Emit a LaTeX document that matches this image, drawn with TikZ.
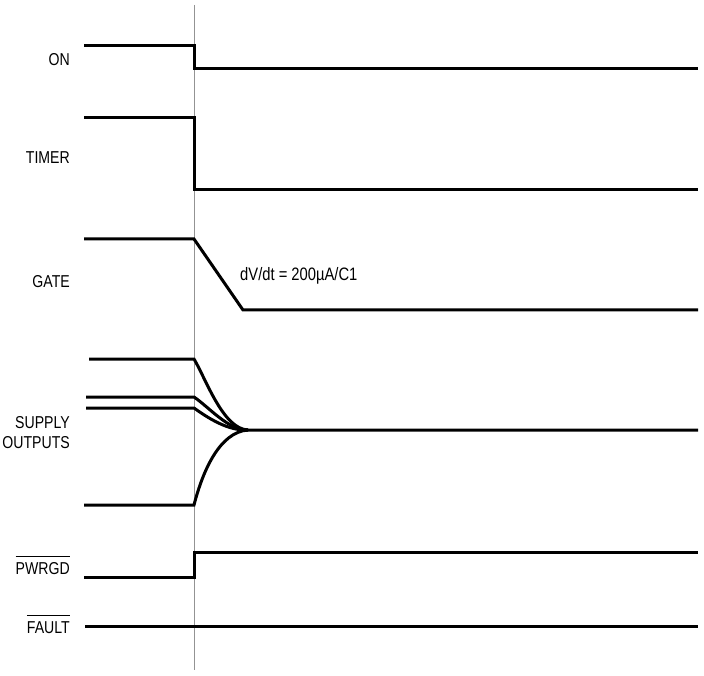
\documentclass[tikz,border=0pt]{standalone}
\usepackage{fontspec}
\setmainfont{Liberation Sans}[FakeStretch=0.82]
\usetikzlibrary{positioning,calc}
\tikzset{
sig/.style={line width=3pt, line join=miter},
marker/.style={draw=gray!85, line width=1pt},
lbl/.style={anchor=base east, inner sep=0pt, font=\fontsize{17.2}{20}\selectfont},
note/.style={anchor=base west, inner sep=0pt, font=\fontsize{18}{21}\selectfont},
}
\newcommand\barred[1]{\vbox{\hrule height 0.9pt\kern 5.5pt\hbox{#1}}}

\begin{document}
\begin{tikzpicture}[x=1pt, y=-1pt]
    \useasboundingbox (0,0) rectangle (704,676);

    \node[lbl] (ON) at(70, 66)  {ON};
    \node[lbl] (TIMER) at(70, 164)  {TIMER};
    \node[lbl] (GATE) at(70, 288)  {GATE};
    \node[lbl, anchor=east, align=right] (SUPPLY) at(70, 433)  {SUPPLY\\OUTPUTS};
    \node[lbl] (PWRGD) at(70, 574)  {\barred{PWRGD}};
    \node[lbl] (FAULT) at(70, 633)  {\barred{FAULT}};

    \node[note] (slope) at(240, 281)  {dV/dt = 200µA/C1};

    \coordinate (t0top) at(194, 5);
    \coordinate (t0bot) at(194, 670);
    \draw[marker] (t0top) -- (t0bot);

    \draw[sig] (84,46) -| (194,69) -- (698,69);
    \draw[sig] (84,118) -| (194,190) -- (698,190);
    \draw[sig] (84,239) -- (194,239) -- (243,310) -- (698,310);

    \draw[sig] (89,359) -- (194,359) .. controls (206,379) and (223,429) .. (248,430) -- (698,430);
    \draw[sig] (86,397) -- (194,397) .. controls (210,408) and (228,430) .. (248,430);
    \draw[sig] (86,408) -- (194,408) .. controls (208,418) and (228,431) .. (248,430);
    \draw[sig] (84,505) -- (194,505) .. controls (203,470) and (220,432) .. (248,430);

    \draw[sig] (84,577) -| (194,552) -- (698,552);
    \draw[sig] (85,626) -- (698,626);
\end{tikzpicture}
\end{document}
